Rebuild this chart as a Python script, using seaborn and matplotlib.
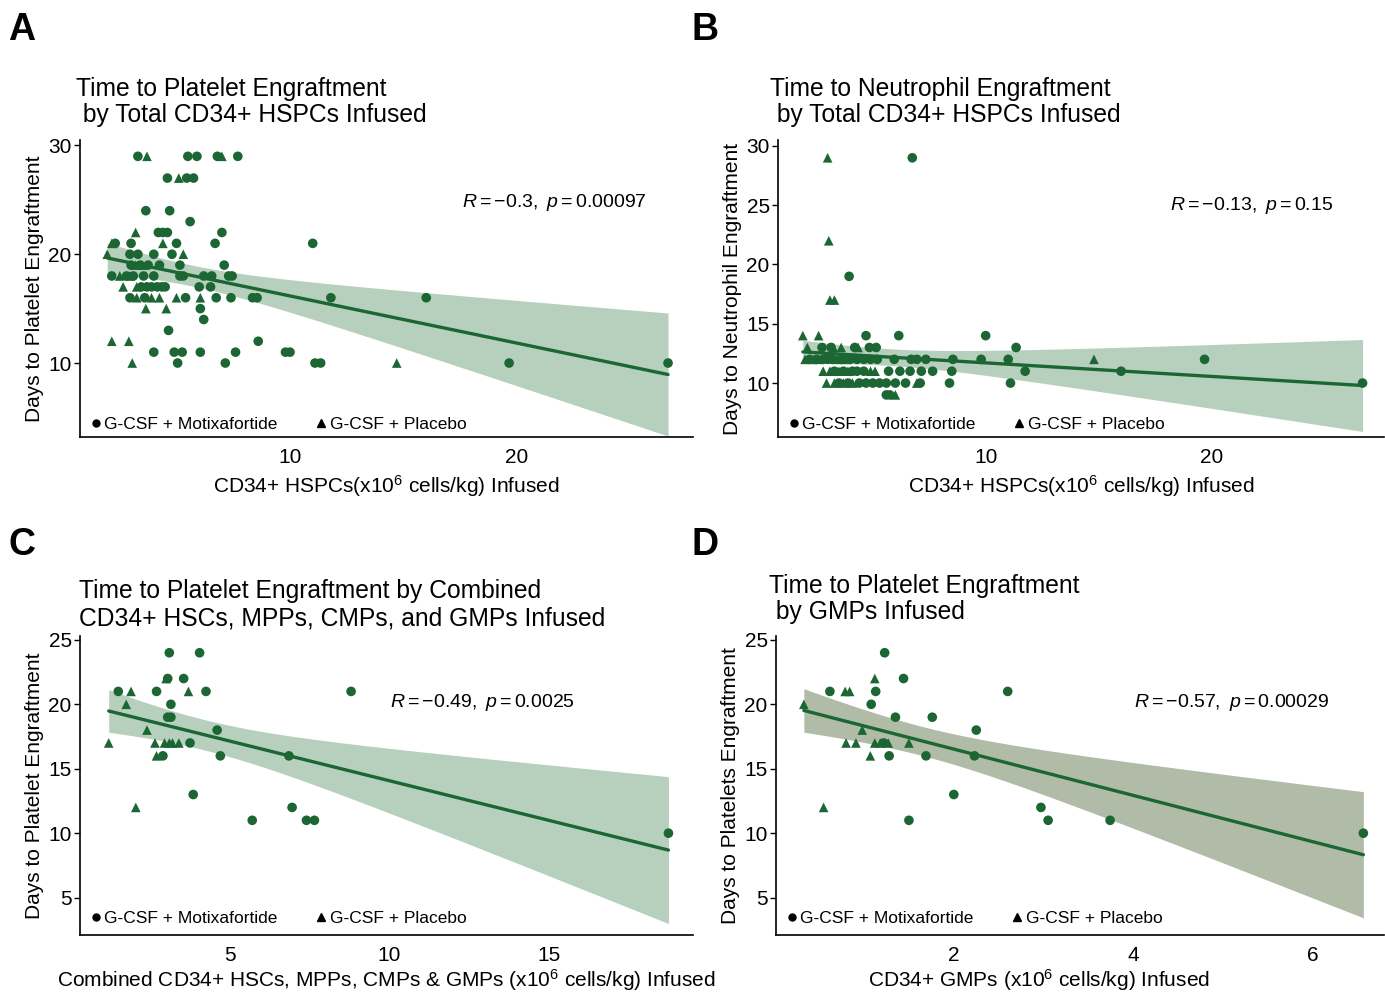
import pandas as pd
import numpy as np
import matplotlib
matplotlib.use('Agg')
import matplotlib.pyplot as plt
from matplotlib.lines import Line2D
import seaborn as sns

sns.set_style('white')
plt.rcParams['font.family'] = ['Liberation Sans', 'DejaVu Sans']
plt.rcParams['mathtext.fontset'] = 'custom'
plt.rcParams['mathtext.rm'] = 'Liberation Sans'
plt.rcParams['mathtext.it'] = 'Liberation Sans:italic'
plt.rcParams['mathtext.bf'] = 'Liberation Sans:bold'
plt.rcParams['text.color'] = 'black'
plt.rcParams['axes.labelcolor'] = 'black'

MOX = 'G-CSF + Motixafortide'
PLA = 'G-CSF + Placebo'
green = '#1b6633'

# Panel A - platelets vs total CD34+ HSPCs
a_mox_x = [3.3, 5.5, 5.9, 6.8, 7.7,
           4.6, 5.45, 5.75,
           3.65, 4.7,
           5.6,
           4.2, 4.4, 4.6, 7.0,
           2.3, 3.0, 5.0, 6.7, 11.0,
           2.95, 3.3, 4.0, 4.8,
           3.0, 3.4, 3.75, 4.25, 5.15, 7.1,
           2.15, 2.8, 3.1, 3.55, 4.0, 5.15, 5.3, 6.2, 6.55, 7.3, 7.45,
           3.45, 3.7, 3.9, 4.15, 4.35, 4.5, 6.0, 6.5,
           2.95, 3.6, 5.4, 6.75, 7.4, 8.35, 8.55, 11.8, 16.0,
           6.05,
           6.2,
           4.65,
           8.6,
           4.0, 4.9, 5.25, 6.05, 7.6, 9.8, 10.0,
           5.05, 7.15, 11.1, 11.35, 19.65, 26.65]
a_mox_y = [29, 29, 29, 29, 29,
           27, 27, 27,
           24, 24,
           23,
           22, 22, 22, 22,
           21, 21, 21, 21, 21,
           20, 20, 20, 20,
           19, 19, 19, 19, 19, 19,
           18, 18, 18, 18, 18, 18, 18, 18, 18, 18, 18,
           17, 17, 17, 17, 17, 17, 17, 17,
           16, 16, 16, 16, 16, 16, 16, 16, 16,
           15,
           14,
           13,
           12,
           11, 11, 11, 11, 11, 11, 11,
           10, 10, 10, 10, 10, 10]
a_pla_x = [3.7, 7.0, 5.1, 3.2, 2.15, 4.4, 1.95, 5.3, 3.2, 3.5, 2.5, 2.95,
           2.65, 3.25, 3.25, 3.9, 4.25, 5.0, 6.05, 3.65, 4.55, 2.15, 2.9,
           3.05, 14.7]
a_pla_y = [29, 29, 27, 22, 21, 21, 20, 20, 19, 19, 18, 18,
           17, 17, 16, 16, 16, 16, 16, 15, 15, 12, 12,
           10, 10]

# Panel B - neutrophils vs total CD34+ HSPCs
b_mox_x = [6.75,
           3.95,
           4.7, 6.15, 10.0,
           2.75, 3.15, 4.2, 4.85, 5.15, 11.35,
           2.2, 2.5, 2.8, 3.0, 3.2, 3.6, 4.0, 4.3, 4.6, 4.9, 5.2, 5.95, 6.7,
           6.95, 7.35, 8.55, 9.8, 11.0, 19.7,
           3.3, 3.7, 4.1, 4.3, 4.6, 5.7, 6.2, 6.65, 7.15, 7.65, 8.5, 11.75, 16.0,
           3.5, 3.9, 4.4, 4.7, 5.0, 5.3, 5.6, 6.0, 6.45, 7.1, 8.4, 11.1, 26.7,
           5.6, 5.75]
b_mox_y = [29,
           19,
           14, 14, 14,
           13, 13, 13, 13, 13, 13,
           12, 12, 12, 12, 12, 12, 12, 12, 12, 12, 12, 12, 12,
           12, 12, 12, 12, 12, 12,
           11, 11, 11, 11, 11, 11, 11, 11, 11, 11, 11, 11, 11,
           10, 10, 10, 10, 10, 10, 10, 10, 10, 10, 10, 10, 10,
           9, 9]
b_pla_x = [3.0, 3.05, 3.1, 3.3, 1.9, 2.6, 2.1, 3.25, 3.6, 4.35,
           2.0, 2.3, 2.6, 3.4, 3.8, 14.8, 2.8, 3.1, 3.5, 3.9, 4.9, 5.1,
           2.95, 3.3, 3.7, 4.1, 6.95, 6.0]
b_pla_y = [29, 22, 17, 17, 14, 14, 13, 13, 13, 13,
           12, 12, 12, 12, 12, 12, 11, 11, 11, 11, 11, 11,
           10, 10, 10, 10, 10, 9]

# Panel C - platelets vs combined HSCs, MPPs, CMPs & GMPs
c_mox_x = [3.1, 4.05, 3.05, 3.55, 1.5, 2.7, 4.25, 8.8, 3.15, 3.05, 3.15,
           4.6, 3.75, 2.9, 4.7, 6.85, 3.85, 6.95, 5.7, 7.4, 7.65, 18.75]
c_mox_y = [24, 24, 22, 22, 21, 21, 21, 21, 20, 19, 19,
           18, 17, 16, 16, 16, 13, 12, 11, 11, 11, 10]
c_pla_x = [3.0, 1.9, 3.7, 1.75, 2.4, 1.2, 2.65, 2.95, 3.1, 3.2, 3.4, 2.7, 2.05]
c_pla_y = [22, 21, 21, 20, 18, 17, 17, 17, 17, 17, 17, 16, 12]

# Panel D - platelets vs GMPs
d_mox_x = [1.23, 1.44, 0.62, 1.13, 2.6, 1.08, 1.35, 1.76, 2.25, 1.22,
           1.28, 1.69, 2.23, 2.0, 2.97, 1.5, 3.05, 3.74, 6.56]
d_mox_y = [24, 22, 21, 21, 21, 20, 19, 19, 18, 17,
           16, 16, 16, 13, 12, 11, 11, 11, 10]
d_pla_x = [1.12, 0.79, 0.84, 0.33, 0.98, 0.8, 0.91, 1.12, 1.18, 1.27, 1.5,
           1.07, 0.55]
d_pla_y = [22, 21, 21, 20, 18, 17, 17, 17, 17, 17, 17, 16, 12]


def panel(ax, mx, my, px, py, band, xlim, ylim, xticks, yticks, title, tpos,
          tls, xlabel, ylabel, rtext, rpos, letter, lpos, xlab_x=0.5,
          leg_y=-0.018, xlpad=4):
    df = pd.DataFrame({'x': mx + px, 'y': my + py,
                       'grp': [MOX] * len(mx) + [PLA] * len(px)})
    # linear fit + 95% confidence band (t-based, like geom_smooth)
    x = df['x'].to_numpy(float)
    y = df['y'].to_numpy(float)
    n = len(x)
    slope, icpt = np.polyfit(x, y, 1)
    s = np.sqrt(np.sum((y - (icpt + slope * x)) ** 2) / (n - 2))
    xs = np.linspace(x.min(), x.max(), 200)
    se = s * np.sqrt(1 / n + (xs - x.mean()) ** 2 / np.sum((x - x.mean()) ** 2))
    tval = 1.96 + 2.5 / (n - 2)
    fit = icpt + slope * xs
    ax.fill_between(xs, fit - tval * se, fit + tval * se, color=band, lw=0,
                    zorder=1)
    sns.regplot(data=df, x='x', y='y', scatter=False, color=green, ci=None,
                line_kws={'lw': 2.4, 'zorder': 2}, ax=ax)
    sns.scatterplot(data=df, x='x', y='y', style='grp',
                    markers={MOX: 'o', PLA: '^'}, color=green, s=48,
                    linewidth=0, legend=False, ax=ax, zorder=3)
    ax.set_xlim(xlim)
    ax.set_ylim(ylim)
    ax.set_xticks(xticks)
    ax.set_yticks(yticks)
    sns.despine(ax=ax)
    for sp in ['left', 'bottom']:
        ax.spines[sp].set_color('black')
        ax.spines[sp].set_linewidth(1.2)
    ax.tick_params(axis='x', length=0, pad=8, labelsize=15, colors='black')
    ax.tick_params(axis='y', length=4, width=1, pad=2, labelsize=15,
                   colors='black', left=True)
    ax.set_xlabel(xlabel, fontsize=15, labelpad=xlpad, x=xlab_x)
    ax.set_ylabel(ylabel, fontsize=15, labelpad=3)
    ax.text(rpos[0], rpos[1], rtext, transform=ax.transAxes, fontsize=14,
            ha='left', va='center')
    handles = [Line2D([], [], marker='o', color='black', ls='', markersize=5),
               Line2D([], [], marker='^', color='black', ls='', markersize=6)]
    ax.legend(handles, [MOX, PLA], ncol=2, loc='lower left',
              bbox_to_anchor=(0.0, leg_y), frameon=False, fontsize=12.5,
              handlelength=0.6, handletextpad=0.2, columnspacing=2.2,
              borderaxespad=0.2)
    fig.text(tpos[0], tpos[1], title, fontsize=17.7, ha='left', va='top',
             linespacing=tls)
    fig.text(lpos[0], lpos[1], letter, fontsize=27, fontweight='bold',
             ha='left', va='top')


fig = plt.figure(figsize=(13.85, 9.92), dpi=100)
W, H = 1385, 992
axA = fig.add_axes([80 / W, (H - 437) / H, 613 / W, 297 / H])
axB = fig.add_axes([778 / W, (H - 437) / H, 606 / W, 297 / H])
axC = fig.add_axes([80 / W, (H - 935) / H, 613 / W, 299 / H])
axD = fig.add_axes([776 / W, (H - 935) / H, 608 / W, 299 / H])

xl_hspc = r'CD34+ HSPCs(x10$^{6}$ cells/kg) Infused'

panel(axA, a_mox_x, a_mox_y, a_pla_x, a_pla_y, '#b7cfbd',
      (0.75, 27.75), (3.2, 30.5), [10, 20], [10, 20, 30],
      'Time to Platelet Engraftment\n by Total CD34+ HSPCs Infused',
      (76 / W, 1 - 77 / H), 1.1, xl_hspc, 'Days to Platelet Engraftment',
      r'$R = -0.3,\ p = 0.00097$', (0.623, 0.788), 'A', (8 / W, 1 - 12 / H))

panel(axB, b_mox_x, b_mox_y, b_pla_x, b_pla_y, '#b7cfbd',
      (0.8, 27.65), (5.45, 30.5), [10, 20], [10, 15, 20, 25, 30],
      'Time to Neutrophil Engraftment\n by Total CD34+ HSPCs Infused',
      (770 / W, 1 - 77 / H), 1.1, xl_hspc, 'Days to Neutrophil Engraftment',
      r'$R = -0.13,\ p = 0.15$', (0.647, 0.778), 'B', (691 / W, 1 - 12 / H))

panel(axC, c_mox_x, c_mox_y, c_pla_x, c_pla_y, '#b7cfbd',
      (0.3, 19.52), (2.1, 25.3), [5, 10, 15], [5, 10, 15, 20, 25],
      'Time to Platelet Engraftment by Combined\nCD34+ HSCs, MPPs, CMPs, and GMPs Infused',
      (79 / W, 1 - 579 / H), 1.2,
      r'Combined CD34+ HSCs, MPPs, CMPs & GMPs (x10$^{6}$ cells/kg) Infused',
      'Days to Platelet Engraftment',
      r'$R = -0.49,\ p = 0.0025$', (0.506, 0.779), 'C', (8 / W, 1 - 527 / H),
      leg_y=-0.005, xlpad=1.5)

panel(axD, d_mox_x, d_mox_y, d_pla_x, d_pla_y, '#b0bca8',
      (0.02, 6.79), (2.1, 25.3), [2, 4, 6], [5, 10, 15, 20, 25],
      'Time to Platelet Engraftment\n by GMPs Infused',
      (769 / W, 1 - 574 / H), 1.1, r'CD34+ GMPs (x10$^{6}$ cells/kg) Infused',
      'Days to Platelets Engraftment',
      r'$R = -0.57,\ p = 0.00029$', (0.589, 0.779), 'D', (691 / W, 1 - 527 / H),
      xlab_x=0.433, leg_y=-0.005, xlpad=1.5)

fig.savefig('out.png', dpi=100)
